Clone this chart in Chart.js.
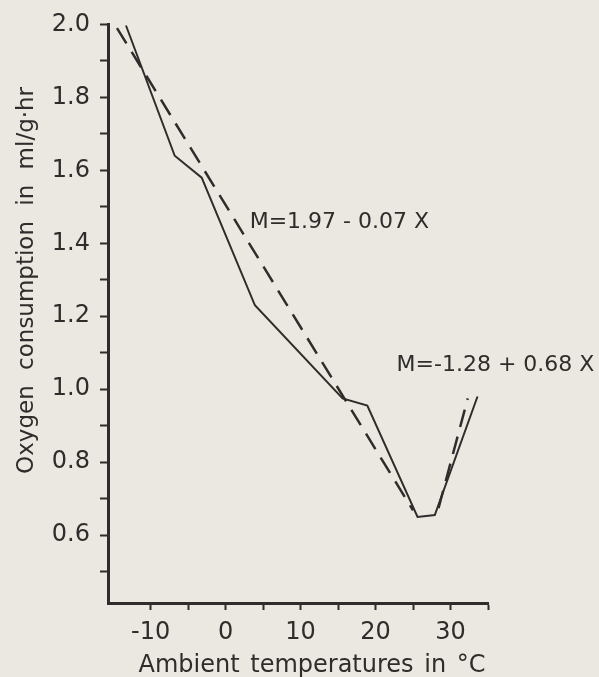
<!DOCTYPE html>
<html>
<head>
<meta charset="utf-8">
<script src="https://cdn.jsdelivr.net/npm/chart.js@4.4.1/dist/chart.umd.min.js"></script>
<style>
  html, body { margin: 0; padding: 0; background: #ebe8e1; }
  canvas { display: block; }
</style>
</head>
<body>
<canvas id="chart" width="599" height="677"></canvas>
<script>
// values
var observedTemp = [-13.3, -6.8, -3.2, 3.9, 15.6, 18.9, 25.6, 27.9, 33.6];
var observedO2   = [1.997, 1.64, 1.58, 1.23, 0.975, 0.955, 0.65, 0.655, 0.98];

// fitted line below the thermoneutral zone
var belowTemp = [-14.5, 25.0];
var belowO2   = [1.99, 0.668];

// fitted line above it
var aboveTemp = [28.4, 32.3];
var aboveO2   = [0.674, 0.975];

var xTickValues = [-10, -5, 0, 5, 10, 15, 20, 25, 30, 35];
var yTickValues = [0.5, 0.6, 0.7, 0.8, 0.9, 1.0, 1.1, 1.2, 1.3, 1.4, 1.5, 1.6, 1.7, 1.8, 1.9, 2.0];

var equations    = ['M=1.97 - 0.07 X', 'M=-1.28 + 0.68 X'];
var equationTemp = [3.2, 22.8];
var equationO2   = [1.458, 1.066];

var ink = '#2e2d2b';
var fontFamily = '"DejaVu Sans", sans-serif';

function toPoints(xs, ys) {
    return xs.map(function(x, i) { return {x: x, y: ys[i]}; });
}

// axis titles and the two equations
var textPlugin = {
    id: 'figureText',
    afterDraw: function(chart) {
        var ctx = chart.ctx;
        var area = chart.chartArea;
        var xs = chart.scales.x, ys = chart.scales.y;
        ctx.save();
        ctx.fillStyle = ink;

        ctx.font = '22px ' + fontFamily;
        ctx.textBaseline = 'middle';
        ctx.textAlign = 'left';
        equations.forEach(function(txt, i) {
            ctx.fillText(txt, xs.getPixelForValue(equationTemp[i]), ys.getPixelForValue(equationO2[i]));
        });

        ctx.textAlign = 'center';
        ctx.textBaseline = 'alphabetic';
        ctx.font = '24px ' + fontFamily;
        ctx.wordSpacing = '3px';
        ctx.fillText('Ambient temperatures in °C', area.left + 204, area.bottom + 69);

        ctx.font = '23px ' + fontFamily;
        ctx.wordSpacing = '8px';
        ctx.translate(area.left - 75, area.top + 256);
        ctx.rotate(-Math.PI / 2);
        ctx.fillText('Oxygen consumption in ml/g·hr', 0, 0);
        ctx.restore();
    }
};

var config = {
    type: 'scatter',
    data: {
        datasets: [{
            label: 'observed',
            data: toPoints(observedTemp, observedO2),
            showLine: true,
            borderColor: ink,
            borderWidth: 2,
            pointRadius: 0
        }, {
            label: 'below',
            data: toPoints(belowTemp, belowO2),
            showLine: true,
            borderColor: ink,
            borderWidth: 2.5,
            borderDash: [18, 10],
            pointRadius: 0
        }, {
            label: 'above',
            data: toPoints(aboveTemp, aboveO2),
            showLine: true,
            borderColor: ink,
            borderWidth: 2.5,
            borderDash: [18, 10],
            pointRadius: 0
        }]
    },
    options: {
        responsive: false,
        animation: false,
        devicePixelRatio: 1,
        layout: { padding: { left: 0, top: 24, right: 111, bottom: 0 } },
        plugins: { legend: { display: false }, tooltip: { enabled: false } },
        scales: {
            x: {
                type: 'linear',
                min: -15.7,
                max: 35,
                afterBuildTicks: function(scale) {
                    scale.ticks = xTickValues.map(function(v) { return {value: v}; });
                },
                afterFit: function(scale) { scale.height = 74; },
                ticks: {
                    color: ink,
                    font: { family: fontFamily, size: 24 },
                    padding: 8,
                    maxRotation: 0,
                    autoSkip: false,
                    callback: function(v) { return v % 10 === 0 ? String(v) : ''; }
                },
                grid: { drawOnChartArea: false, drawTicks: true, tickLength: 7, tickWidth: 2, tickColor: ink },
                border: { display: true, width: 3, color: ink }
            },
            y: {
                type: 'linear',
                min: 0.414,
                max: 2.0,
                afterBuildTicks: function(scale) {
                    scale.ticks = yTickValues.map(function(v) { return {value: v}; });
                },
                afterFit: function(scale) { scale.width = 108; },
                ticks: {
                    color: ink,
                    font: { family: fontFamily, size: 24 },
                    padding: 10,
                    autoSkip: false,
                    callback: function(v) {
                        return Math.round(v * 10) % 2 === 0 ? v.toFixed(1) : '';
                    }
                },
                grid: { drawOnChartArea: false, drawTicks: true, tickLength: 8, tickWidth: 2, tickColor: ink },
                border: { display: true, width: 3, color: ink }
            }
        }
    },
    plugins: [textPlugin]
};

window.chart = new Chart(document.getElementById('chart').getContext('2d'), config);
</script>
</body>
</html>
